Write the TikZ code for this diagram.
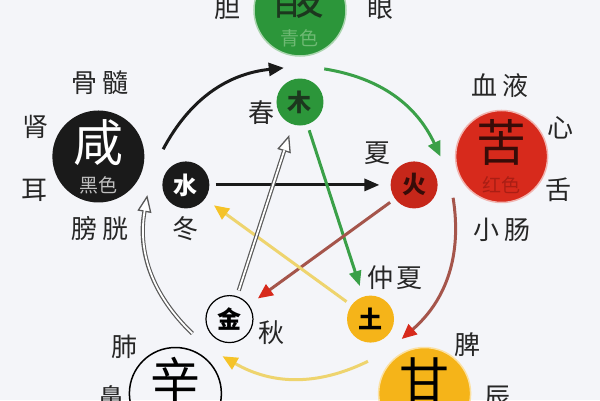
\documentclass[tikz,border=0pt]{standalone}
\usepackage{fontspec}
\setmainfont{Noto Sans CJK SC}
\usetikzlibrary{arrows.meta,positioning}

\definecolor{bg}{RGB}{244,245,249}
\definecolor{cgreen}{RGB}{44,150,58}
\definecolor{cred}{RGB}{215,42,28}
\definecolor{cyellow}{RGB}{245,180,25}
\definecolor{cblack}{RGB}{26,26,26}
\definecolor{agreen}{RGB}{58,160,72}
\definecolor{abrown}{RGB}{165,85,75}
\definecolor{ayellow}{RGB}{238,212,110}
\definecolor{ayellowh}{RGB}{245,195,40}
\definecolor{suantxt}{RGB}{28,55,30}
\definecolor{suanse}{RGB}{110,185,115}
\definecolor{kutxt}{RGB}{55,12,8}
\definecolor{kuse}{RGB}{170,30,20}

\newcommand{\dazi}{\fontsize{50}{50}\selectfont}

\begin{document}
\begin{tikzpicture}[x=1pt,y=1pt,
        bigc/.style={circle,minimum size=92pt,inner sep=0pt,align=center,font=\fontsize{19}{31}\selectfont},
        smallc/.style={circle,minimum size=47pt,inner sep=0pt,font=\fontsize{24}{24}\selectfont\bfseries},
        organ/.style={font=\fontsize{26}{26}\selectfont,text=black!85,inner sep=0pt},
        tipc/.style={-{Triangle[length=15pt,width=13pt,color=#1]}},
        ring/.style={line width=3pt,-{Triangle[length=15pt,width=13pt]}},
        flow/.style={line width=3pt,shorten <=6pt,shorten >=11pt,-{Triangle[length=15pt,width=12pt]}},
        hollow/.style={draw=black!65,line width=4.2pt,
            -{Triangle[length=17pt,width=14pt,fill=white,line width=1.3pt]},
            postaction={draw=white,line width=1.8pt,-,shorten >=#1}}]
   \fill[bg] (-300,-178) rectangle (300,222);
   \useasboundingbox (-300,-178) rectangle (300,222);

   % big circles
   \node[bigc,fill=cgreen,draw=cgreen!40!white,line width=1.5pt,text=suantxt] (suan) at (90:212) {{\dazi 酸}\\{\color{suanse}青色}};
   \node[bigc,fill=cred,draw=cred!35!white,line width=1.5pt,text=kutxt] (ku) at (18:212) {{\dazi 苦}\\{\color{kuse}红色}};
   \node[bigc,fill=cyellow,draw=cyellow!40!white,line width=1.5pt,text height=40pt,text depth=28pt] (gan) at (-54:212) {\dazi 甘};
   \node[bigc,draw=black,line width=1.5pt,text height=40pt,text depth=28pt] (xin) at (-126:212) {\dazi 辛};
   \node[bigc,fill=cblack,text=white] (xian) at (162:212) {{\dazi 咸}\\{\color{white!75!black}黑色}};

   % small circles
   \node[smallc,fill=cgreen,text=suantxt] (mu) at (90:120) {木};
   \node[smallc,fill=cred!92!black,text=kutxt] (huo) at (18:120) {火};
   \node[smallc,fill=cyellow] (tu) at (-54:120) {土};
   \node[smallc,draw=black,line width=1.2pt] (jin) at (-126:120) {金};
   \node[smallc,fill=cblack,text=white] (shui) at (162:120) {水};

   % labels
   \node[organ] (dan) at (-72,214) {胆};
   \node[organ] (yan) at (80,214) {眼};
   \node[organ] (gusui) at (-200,139) {骨\hspace{5pt}髓};
   \node[organ] (shen) at (-264,95) {肾};
   \node[organ] (er) at (-265,32) {耳};
   \node[organ] (pangguang) at (-200,-7) {膀\hspace{5pt}胱};
   \node[organ] (dong) [below=8pt of shui] {冬};
   \node[organ] (chun) at (-38,109) {春};
   \node[organ] (xia) at (78,69) {夏};
   \node[organ] (xueye) at (200,136) {血\hspace{5pt}液};
   \node[organ] (xinz) at (260,94) {心};
   \node[organ] (she) at (258,32) {舌};
   \node[organ] (xiaochang) at (202,-8) {小\hspace{5pt}肠};
   \node[organ] (zhongxia) at (95,-56) {仲\hspace{4pt}夏};
   \node[organ] (pi) at (167,-123) {脾};
   \node[organ] (chen) at (197,-175) {辰};
   \node[organ] (qiu) at (-28,-111) {秋};
   \node[organ] (fei) at (-175,-125) {肺};
   \node[organ] (bi) at (-188,-176) {鼻};

   % ends of the outer arcs
   \coordinate (xian-out) at (152:155);
   \coordinate (suan-in) at (96:155);
   \coordinate (suan-out) at (81:155);
   \coordinate (ku-in) at (25:155);
   \coordinate (ku-out) at (9:155);
   \coordinate (gan-in) at (-49:155);
   \coordinate (gan-out) at (-64:155);
   \coordinate (xin-in) at (-120:155);
   \coordinate (xin-out) at (-134:155);
   \coordinate (xian-in) at (170:155);

   \draw[ring,cblack] (xian-out) to[bend left=28] (suan-in);
   \draw[ring,agreen] (suan-out) to[bend left=28] (ku-in);
   \draw[ring,abrown,tipc=cred] (ku-out) to[bend left=29] (gan-in);
   \draw[ring,ayellow,tipc=ayellowh] (gan-out) to[bend left=28] (xin-in);
   \draw[hollow=15pt] (xin-out) to[bend left=28] (xian-in);

   % inner star
   \draw[flow,cblack] (shui) -- (huo);
   \draw[flow,agreen] (mu) -- (tu);
   \draw[flow,abrown,tipc=cred] (huo) -- (jin);
   \draw[flow,ayellow,tipc=ayellowh] (tu) -- (shui);
   \draw[hollow=27pt,shorten <=6pt,shorten >=11pt] (jin) -- (mu);
\end{tikzpicture}
\end{document}
